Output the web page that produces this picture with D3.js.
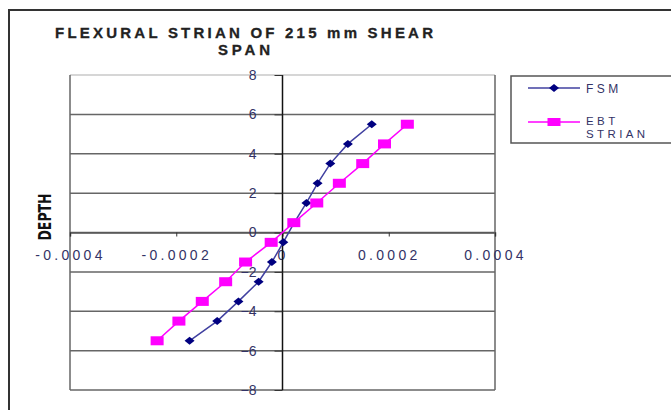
<!DOCTYPE html>
<html><head><meta charset="utf-8">
<script src="https://cdn.jsdelivr.net/npm/d3@7"></script>
<style>body{margin:0;background:#fff;}svg{display:block;}</style>
</head><body>
<svg id="c" width="671" height="410"></svg>
<script>
const depth = [5.5, 4.5, 3.5, 2.5, 1.5, 0.5, -0.5, -1.5, -2.5, -3.5, -4.5, -5.5];
const fsm = [0.000168, 0.000123, 0.00009, 0.000066, 0.000045, 0.000022, 0.0000015, -0.00002, -0.000045, -0.000083, -0.000123, -0.000175];
const ebt = [0.000235, 0.000192, 0.000151, 0.000107, 0.0000645, 0.0000213, -0.0000213, -0.0000695, -0.000107, -0.000151, -0.000195, -0.000236];
const xTicks = [-0.0004, -0.0002, 0, 0.0002, 0.0004];
const xTickLabels = ["-0.0004", "-0.0002", "0", "0.0002", "0.0004"];
const yTicks = [8, 6, 4, 2, 0, -2, -4, -6, -8];
const seriesNames = ["FSM", "EBT STRIAN"];

const svg = d3.select("#c");
const x = d3.scaleLinear().domain([-0.0004, 0.0004]).range([70, 495]);
const y = d3.scaleLinear().domain([-8, 8]).range([390, 75]);
const txt = "#333366";
const font = "Arial, 'Liberation Sans', sans-serif";

// outer frame
svg.append("path").attr("d", "M9,420 L9,10 L680,10").attr("fill", "none").attr("stroke", "#333").attr("stroke-width", 2);

// title
svg.append("text").attr("x", 244).attr("y", 38).attr("text-anchor", "middle")
  .attr("font-family", font).attr("font-weight", "bold").attr("font-size", 15).attr("fill", "#222")
  .attr("stroke", "#222").attr("stroke-width", 0.3)
  .attr("textLength", 378).attr("lengthAdjust", "spacing").text("FLEXURAL STRIAN OF 215 mm SHEAR");
svg.append("text").attr("x", 244).attr("y", 55).attr("text-anchor", "middle")
  .attr("font-family", font).attr("font-weight", "bold").attr("font-size", 15).attr("fill", "#222")
  .attr("stroke", "#222").attr("stroke-width", 0.3)
  .attr("textLength", 52).attr("lengthAdjust", "spacing").text("SPAN");

// gridlines
svg.append("g").selectAll("line").data(yTicks).join("line")
  .attr("x1", x.range()[0]).attr("x2", x.range()[1])
  .attr("y1", d => y(d)).attr("y2", d => y(d))
  .attr("stroke", d => (d === 8) ? "#c8c8c8" : "#666").attr("stroke-width", 1.5);
// plot frame left/right
svg.append("line").attr("x1", 70).attr("x2", 70).attr("y1", y(8)).attr("y2", y(-8)).attr("stroke", "#666").attr("stroke-width", 1.5);
svg.append("line").attr("x1", 495).attr("x2", 495).attr("y1", y(8)).attr("y2", y(-8)).attr("stroke", "#666").attr("stroke-width", 1.5);

// axes
const xAxis = d3.axisBottom(x).tickValues(xTicks).tickSize(4).tickFormat((d, i) => xTickLabels[i]);
const gx = svg.append("g").attr("transform", `translate(0,${y(0)})`).call(xAxis);
gx.select(".domain").attr("stroke", "#555").attr("stroke-width", 1.5);
gx.selectAll(".tick line").attr("stroke", "#333");
gx.selectAll(".tick text").attr("font-family", font).attr("font-size", 14).attr("fill", txt)
  .attr("letter-spacing", "3.3px").attr("dy", "0.55em").attr("y", 20);

const yAxis = d3.axisLeft(y).tickValues(yTicks).tickSize(8).tickFormat(d3.format("d"));
const gy = svg.append("g").attr("transform", `translate(${x(0)},0)`).call(yAxis);
gy.select(".domain").attr("stroke", "#111").attr("stroke-width", 1.5).attr("d", `M0,${y(8)}V${y(-8)}`);
gy.selectAll(".tick line").attr("stroke", "#333");
gy.selectAll(".tick text").attr("font-family", font).attr("font-size", 14).attr("fill", txt).attr("x", -26).attr("text-anchor", "end");

// y axis title
svg.append("text").attr("transform", "translate(51,217) rotate(-90)").attr("text-anchor", "middle")
  .attr("font-family", "'Liberation Sans Narrow', 'DejaVu Sans Condensed', Arial, sans-serif")
  .attr("font-weight", "bold").attr("font-size", 17).attr("fill", "#111")
  .attr("textLength", 47).attr("lengthAdjust", "spacingAndGlyphs").text("DEPTH");

// series
const line = d3.line().x(d => x(d[0])).y(d => y(d[1]));
const fsmPts = fsm.map((v, i) => [v, depth[i]]);
const ebtPts = ebt.map((v, i) => [v, depth[i]]);

svg.append("path").datum(fsmPts).attr("d", line).attr("fill", "none").attr("stroke", "#4040a0").attr("stroke-width", 1.5);
svg.append("g").selectAll("path").data(fsmPts).join("path")
  .attr("transform", d => `translate(${x(d[0])},${y(d[1])})`)
  .attr("d", "M-5,0 L0,-4 L5,0 L0,4 Z").attr("fill", "#000080");

svg.append("path").datum(ebtPts).attr("d", line).attr("fill", "none").attr("stroke", "#ff00ff").attr("stroke-width", 1.5);
svg.append("g").selectAll("rect").data(ebtPts).join("rect")
  .attr("x", d => x(d[0]) - 6.5).attr("y", d => y(d[1]) - 4.5).attr("width", 13).attr("height", 9).attr("fill", "#ff00ff");

// legend
svg.append("path").attr("d", "M680,76 L511,76 L511,143 L680,143").attr("fill", "none").attr("stroke", "#555").attr("stroke-width", 1.5);
svg.append("line").attr("x1", 528).attr("x2", 580).attr("y1", 88).attr("y2", 88).attr("stroke", "#4040a0").attr("stroke-width", 1.5);
svg.append("path").attr("d", "M549,88 l5,-4 l5,4 l-5,4 Z").attr("fill", "#000080");
svg.append("text").attr("x", 586).attr("y", 93).attr("font-family", font).attr("font-size", 12).attr("fill", txt)
  .attr("letter-spacing", "3.4px").text(seriesNames[0]);
svg.append("line").attr("x1", 528).attr("x2", 580).attr("y1", 122).attr("y2", 122).attr("stroke", "#ff00ff").attr("stroke-width", 1.5);
svg.append("rect").attr("x", 547.5).attr("y", 118).attr("width", 13).attr("height", 8).attr("fill", "#ff00ff");
const lt = svg.append("text").attr("font-family", font).attr("font-size", 11.5).attr("fill", txt).attr("letter-spacing", "3.4px");
seriesNames[1].split(" ").forEach((w, i) => lt.append("tspan").attr("x", 586).attr("y", 124.5 + i * 13).text(w));
</script>
</body></html>
